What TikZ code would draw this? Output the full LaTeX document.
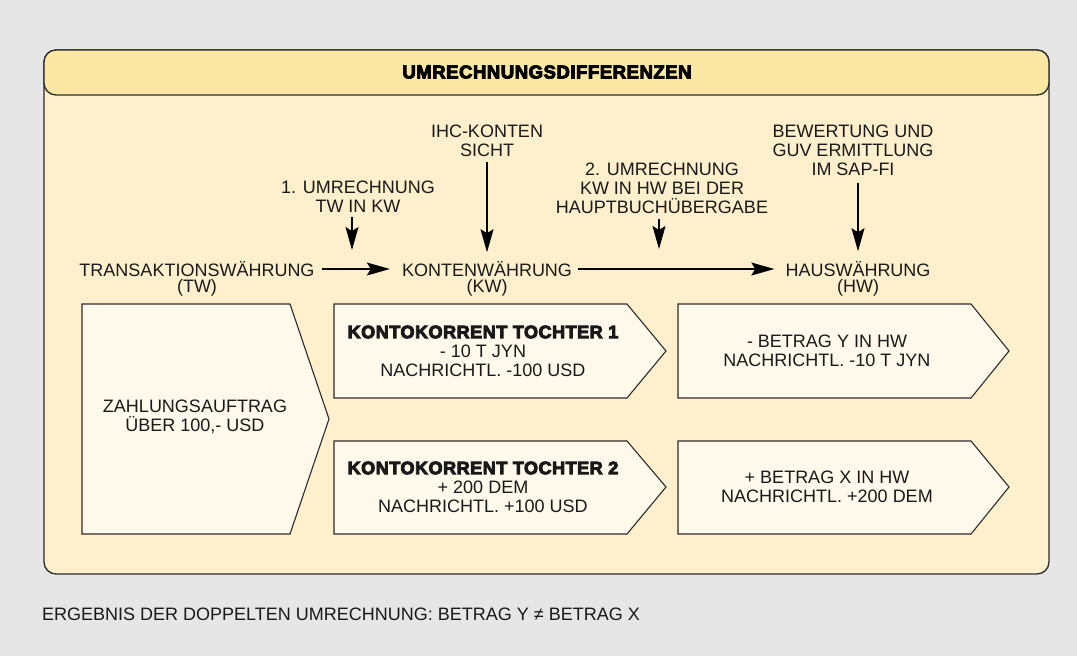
\documentclass[tikz,border=0pt]{standalone}
\usepackage{fontspec}
\setmainfont{Liberation Sans}
\newfontfamily\heavyfont[BoldFeatures={FakeBold=5}, LetterSpace=3]{Liberation Sans}
\usetikzlibrary{arrows.meta}
\definecolor{pagegray}{HTML}{E6E6E6}
\definecolor{headyellow}{HTML}{FDE8A3}
\definecolor{bodycream}{HTML}{FEF0CC}
\definecolor{boxcream}{HTML}{FFF9EC}
\definecolor{rim}{HTML}{2B2B2B}
\begin{document}
\begin{tikzpicture}[x=1pt,y=-1pt,
  txt/.style={font=\fontsize{18}{19}\selectfont, inner sep=0pt, align=center, text=black!90},
  hvy/.style={font=\heavyfont\bfseries\fontsize{18.5}{19}\selectfont, inner sep=0pt},
  arr/.style={-{Stealth[length=23pt,width=13pt,inset=4pt]}, line width=1.3pt},
  panel/.style={draw=rim, line width=1.3pt},
  arrowbox/.style={draw=rim, line width=1.1pt, fill=boxcream}]

\fill[pagegray] (0,0) rectangle (1077,656);
\useasboundingbox (0,0) rectangle (1077,656);

% panel body and header band
\draw[panel, fill=bodycream, rounded corners=12pt] (44,50) rectangle (1049,574);
\draw[panel, fill=headyellow, rounded corners=12pt] (44,50) rectangle (1049,95);
\node[hvy] (title) at (547,72) {UMRECHNUNGSDIFFERENZEN};

% currency levels
\node[txt] (tw) at (197,269) {TRANSAKTIONSWÄHRUNG};
\node[txt] (twabbr) at (197,288) {(TW)};
\node[txt] (kw) at (487,269) {KONTENWÄHRUNG};
\node[txt] (kwabbr) at (487,288) {(KW)};
\node[txt] (hw) at (858,269) {HAUSWÄHRUNG};
\node[txt] (hwabbr) at (858,288) {(HW)};

\draw[arr, shorten <=7pt, shorten >=12pt] (tw.east) -- (kw.west);
\draw[arr, shorten <=6pt, shorten >=11pt] (kw.east) -- (hw.west);

% annotations from above
\node[txt] (conv1) at (358,196.5) {1. UMRECHNUNG\\TW IN KW};
\node[txt] (ihc) at (487,140.5) {IHC-KONTEN\\SICHT};
\node[txt] (conv2) at (662,188) {2. UMRECHNUNG\\KW IN HW BEI DER\\HAUPTBUCHÜBERGABE};
\node[txt] (valuation) at (853,150.5) {BEWERTUNG UND\\GUV ERMITTLUNG\\IM SAP-FI};

\coordinate (conv1tip) at (352,250);
\coordinate (conv2tip) at (659,249);
\draw[arr, shorten <=5pt] (conv1.south -| conv1tip) -- (conv1tip);
\draw[arr, shorten <=5pt, shorten >=9pt] (ihc.south -| kw.north) -- (kw.north);
\draw[arr, shorten <=5pt] (conv2.south -| conv2tip) -- (conv2tip);
\draw[arr, shorten <=7pt, shorten >=10pt] (valuation.south -| hw.north) -- (hw.north);

% arrow-shaped boxes
\draw[arrowbox] (82,304) -- (290,304) -- (329,419) -- (290,534) -- (82,534) -- cycle;
\node[txt] (order) at (195,417) {ZAHLUNGSAUFTRAG\\ÜBER 100,- USD};

\draw[arrowbox] (334,304) -- (627,304) -- (666,351) -- (627,398) -- (334,398) -- cycle;
\node[txt] (sub1) at (483,351) {{\heavyfont\bfseries KONTOKORRENT TOCHTER 1}\\- 10 T JYN\\NACHRICHTL. -100 USD};

\draw[arrowbox] (334,441) -- (627,441) -- (666,487) -- (627,534) -- (334,534) -- cycle;
\node[txt] (sub2) at (483,487) {{\heavyfont\bfseries KONTOKORRENT TOCHTER 2}\\+ 200 DEM\\NACHRICHTL. +100 USD};

\draw[arrowbox] (678,304) -- (971,304) -- (1009,351) -- (971,398) -- (678,398) -- cycle;
\node[txt] (home1) at (827,351) {- BETRAG Y IN HW\\NACHRICHTL. -10 T JYN};

\draw[arrowbox] (678,441) -- (971,441) -- (1009,487) -- (971,534) -- (678,534) -- cycle;
\node[txt] (home2) at (827,487) {+ BETRAG X IN HW\\NACHRICHTL. +200 DEM};

% footnote
\node[txt, anchor=west] (result) at (42,614) {ERGEBNIS DER DOPPELTEN UMRECHNUNG: BETRAG Y ≠ BETRAG X};
\end{tikzpicture}
\end{document}
